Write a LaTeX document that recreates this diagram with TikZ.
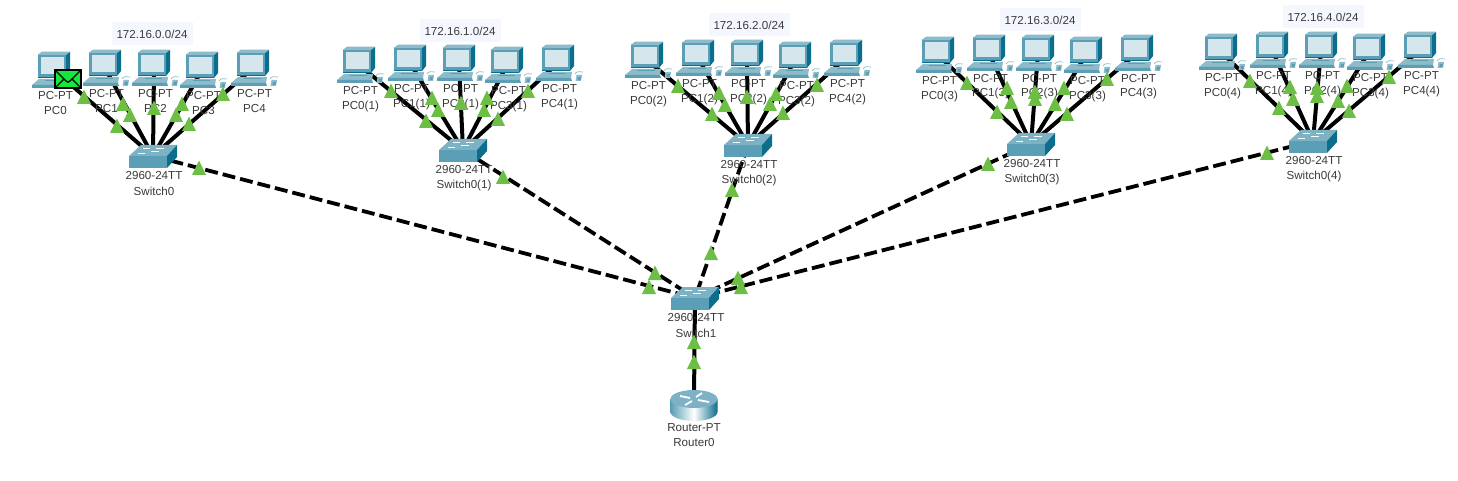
\documentclass[tikz,border=0pt]{standalone}
\usepackage{fontspec}
\setmainfont{Liberation Sans}
\definecolor{pcdark}{HTML}{0B6E8C}
\definecolor{pcmid}{HTML}{5A9FB5}
\definecolor{pclight}{HTML}{8DBBCA}
\definecolor{pcscreen}{HTML}{D6E6ED}
\definecolor{swtop}{HTML}{7DB2C4}
\definecolor{led}{HTML}{6CBE45}
\definecolor{lab}{HTML}{3A3A3A}
\definecolor{boxbg}{HTML}{F5F7FF}
\definecolor{mail}{HTML}{14E83C}
\tikzset{
  anchorpt/.style={inner sep=0pt,minimum size=1pt},
  solidlink/.style={line width=2pt,black},
  dashlink/.style={line width=1.9pt,black,dash pattern=on 6.5pt off 2.5pt},
  lbl/.style={inner sep=0pt,text=lab,font=\fontsize{5.8}{7}\selectfont},
  subnet/.style={lbl,fill=boxbg,minimum width=40.5pt,minimum height=11.5pt},
  pics/pcicon/.style={code={
    \fill[pcdark] (-16,3)--(-12,0)--(16,0)--(16,21)--(12,26)--(-16,26)--cycle;
    \fill[pclight] (-16,3)--(-12,0)--(16,0)--(12,3)--cycle;
    \fill[pcmid] (-16,3) rectangle (12,25.5);
    \fill[pcscreen] (-13,5) rectangle (10,22);
    \fill[pclight] (-15,27)--(14,27)--(13,33)--(-22,33)--cycle;
    \fill[pcmid] (-22,33)--(13,33)--(14,36)--(-22,36)--cycle;
    \fill[pcmid] (-9,28) rectangle (8,29.2);
    \draw[pclight,line width=.35pt] (17,29) .. controls (18,26.5) and (22,26) .. (25,27);
    \fill[pclight] (18.5,30)--(24,30)--(23,36)--(17.5,36)--cycle;
    \fill[pcmid] (20,32)--(23,32)--(22.4,35)--(19.5,35)--cycle;
  }},
  pics/swicon/.style={code={
    \fill[swtop] (-24,11)--(-12,0)--(24,0)--(14,11)--cycle;
    \fill[pcmid] (-24,11) rectangle (14,23);
    \fill[pcdark] (14,11)--(24,0)--(24,12)--(14,23)--cycle;
    \draw[white,line width=.45pt] (-10,3.5)--(-3,3.5) (3,3.5)--(11,3.5) (-15,8)--(-8,8) (-2,6)--(6,6);
  }},
  pics/rticon/.style={code={
    \shade[left color=pcmid,right color=pcdark,middle color=white] (-23.5,9)--(-23.5,22) arc[x radius=23.5,y radius=9,start angle=180,end angle=0]--(23.5,9)--cycle;
    \fill[swtop] (0,9) ellipse[x radius=23.5,y radius=9];
    \draw[white,line width=.9pt] (-14,6)--(-4,8) (4,10)--(15,12) (-9,15)--(-2,11) (2,7)--(8,3);
  }},
  ledmark/.style={fill=led}
}
\begin{document}
\begin{tikzpicture}[x=0.5pt,y=-0.5pt]
\path[use as bounding box,fill=white] (0,0) rectangle (1458,481);
% anchor nodes
\foreach \n/\x/\y in {
  a0/54/70,a1/105/68,a2/154/68,a3/202/70,a4/253/68,
  b0/359/65,b1/410/63,b2/459/63,b3/507/65,b4/558/63,
  c0/647/60,c1/698/58,c2/747/58,c3/795/60,c4/846/58,
  d0/938/55,d1/989/53,d2/1038/53,d3/1086/55,d4/1137/53,
  e0/1221/52,e1/1272/50,e2/1321/50,e3/1369/52,e4/1420/50,
  swa/153/156,swb/463/150,swc/748/145,swd/1031/144,swe/1313/141,
  main/695/298,rt/694/399}
  {\node[anchorpt] (\n) at (\x,\y) {};}
% links
\foreach \g in {a,b,c,d,e}
  \foreach \i in {0,...,4}
    {\draw[solidlink] (\g\i.center) -- (sw\g.center);}
\foreach \g in {a,b,c,d,e}
  {\draw[dashlink] (sw\g.center) -- (main.center);}
\draw[solidlink] (rt.center) -- (main.center);
% PCs
\foreach \n/\x/\t/\lab in {
  a0/54/52/PC0,a1/105/50/PC1,a2/154/50/PC2,a3/202/52/PC3,a4/253/50/PC4,
  b0/359/47/PC0(1),b1/410/45/PC1(1),b2/459/45/PC2(1),b3/507/47/PC3(1),b4/558/45/PC4(1),
  c0/647/42/PC0(2),c1/698/40/PC1(2),c2/747/40/PC2(2),c3/795/42/PC3(2),c4/846/40/PC4(2),
  d0/938/37/PC0(3),d1/989/35/PC1(3),d2/1038/35/PC2(3),d3/1086/37/PC3(3),d4/1137/35/PC4(3),
  e0/1221/34/PC0(4),e1/1272/32/PC1(4),e2/1321/32/PC2(4),e3/1369/34/PC3(4),e4/1420/32/PC4(4)}
  {\pic at (\x,\t) {pcicon};
   \node[lbl] (\n-type) at ([xshift=.75pt,yshift=-22pt]\x,\t) {PC-PT};
   \node[lbl] (\n-name) at ([xshift=.75pt,yshift=-29.5pt]\x,\t) {\lab};}
% switches
\foreach \n/\x/\t/\lab in {
  swa/153/145/Switch0,swb/463/139/Switch0(1),swc/748/134/Switch0(2),
  swd/1031/133/Switch0(3),swe/1313/130/Switch0(4),main/695/287/Switch1}
  {\pic at (\x,\t) {swicon};
   \node[lbl] (\n-type) at ([xshift=.5pt,yshift=-15.5pt]\x,\t) {2960-24TT};
   \node[lbl] (\n-name) at ([xshift=.5pt,yshift=-23pt]\x,\t) {\lab};}
% router
\pic at (694,390) {rticon};
\node[lbl] (rt-type) at (694,428) {Router-PT};
\node[lbl] (rt-name) at (694,443) {Router0};
% subnets
\node[subnet] (net0) at (152,34) {172.16.0.0/24};
\node[subnet] (net1) at (460,31) {172.16.1.0/24};
\node[subnet] (net2) at (749,25) {172.16.2.0/24};
\node[subnet] (net3) at (1040,20) {172.16.3.0/24};
\node[subnet] (net4) at (1323,17) {172.16.4.0/24};
% link lights
\foreach \x/\y in {
  84/97,123/104,130/115,154/108,176/115,182/104,117/126,189/124,223/94,199/168,
  391/91,432/98,438/110,461/103,487/98,484/110,426/121,498/119,528/91,503/177,
  678/86,719/93,725/105,747/97,776/94,770/104,712/114,783/113,817/85,732/190,
  967/83,1007/88,1011/102,1035/92,1035/99,1064/88,1055/104,997/112,1067/114,1107/79,988/164,
  1250/81,1290/87,1293/99,1317/88,1317/96,1347/86,1338/101,1279/108,1349/111,1389/77,1267/153,
  655/273,649/287,711/253,738/278,741/287,694/342,694/362}
  {\fill[ledmark] (\x-7,\y+7)--(\x+7,\y+7)--(\x,\y-7.5)--cycle;}
% envelope
\draw[black,line width=.8pt,fill=mail] (55,70) rectangle (81,88);
\draw[black,line width=.7pt] (55,70)--(66,81) .. controls (67,82.5) and (69,82.5) .. (70,81)--(81,70) (55,88)--(64,79) (81,88)--(72,79);
\end{tikzpicture}
\end{document}
